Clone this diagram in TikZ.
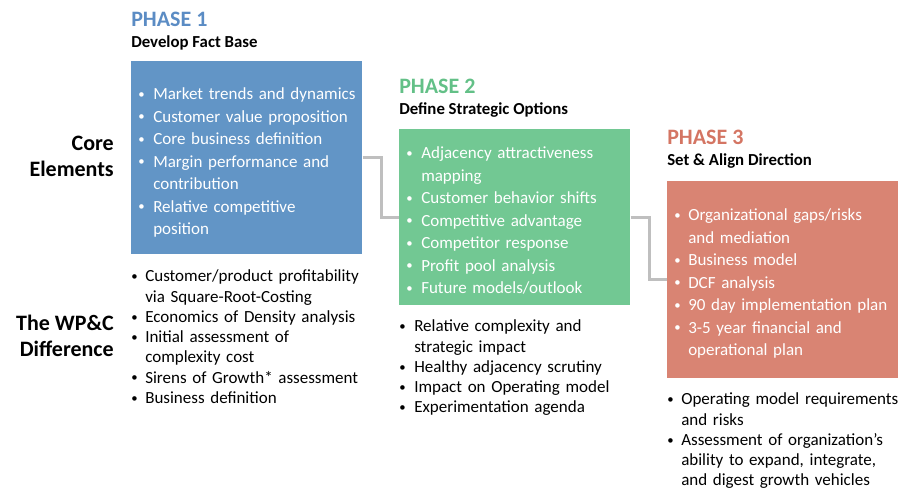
\documentclass[tikz,border=0pt]{standalone}
\usepackage{fontspec}
\setmainfont{Carlito}
\definecolor{pone}{HTML}{6295C6}
\definecolor{ptwo}{HTML}{72C893}
\definecolor{pthree}{HTML}{D98473}
\definecolor{hone}{HTML}{5B8CC4}
\definecolor{htwo}{HTML}{63C087}
\definecolor{hthree}{HTML}{D47563}
\definecolor{conn}{HTML}{BFBFBF}
\newcommand{\smallbullet}{\raisebox{0.9pt}{\scalebox{0.75}{\textbullet}}}
\newcommand{\bitem}[2]{\par\hangindent=#1\hangafter=1\noindent\strut\makebox[#1][l]{\smallbullet}#2}
\newcommand{\boxfont}{\fontsize{12.75}{16.9}\selectfont}
\newcommand{\belowfont}{\fontsize{12.75}{15.2}\selectfont}
\tikzset{
  phasebox/.style={anchor=north west, inner sep=0pt, minimum width=173.25pt},
  phasehead/.style={anchor=base west, inner sep=0pt, font=\bfseries\fontsize{16.5}{19}\selectfont},
  phasesub/.style={anchor=base west, inner sep=0pt, font=\bfseries\fontsize{12.6}{15}\selectfont},
  boxlist/.style={anchor=north west, inner sep=0pt, text width=175pt, align=left, text=white, font=\boxfont},
  belowlist/.style={anchor=north west, inner sep=0pt, text width=190pt, align=left, font=\belowfont},
  sidelabel/.style={anchor=north east, inner sep=0pt, align=right, font=\bfseries\fontsize{16.5}{19.9}\selectfont},
  connector/.style={draw=conn, line width=2.25pt}
}
\begin{document}
\begin{tikzpicture}[x=0.75pt,y=-0.75pt]
\useasboundingbox (0,0) rectangle (900,494);

% boxes
\node[phasebox, fill=pone, minimum height=144.75pt] (b1) at (131,61) {};
\node[phasebox, fill=ptwo, minimum height=132pt] (b2) at (399,129) {};
\node[phasebox, fill=pthree, minimum height=147.75pt] (b3) at (667,181) {};

% connectors
\draw[connector] (b1.east) -- ++(19,0) |- (b2.west);
\draw[connector] (b2.east) -- ++(19,0) |- (b3.west);

% headers
\node[phasehead, text=hone] (h1) at (131,26.5) {PHASE 1};
\node[phasesub] (s1) at (131,47.5) {Develop Fact Base};
\node[phasehead, text=htwo] (h2) at (399,93.5) {PHASE 2};
\node[phasesub] (s2) at (399,114.5) {Define Strategic Options};
\node[phasehead, text=hthree] (h3) at (667,144.5) {PHASE 3};
\node[phasesub] (s3) at (667,165.5) {Set \& Align Direction};

% side labels
\node[sidelabel] (core) at (114,131.5) {\strut Core\\Elements};
\node[sidelabel] (diff) at (114,311.5) {\strut The WP\&C\\Difference};

% lists inside boxes
\node[boxlist] (l1) at (138,76.7) {%
\bitem{11.25pt}{Market trends and dynamics}
\bitem{11.25pt}{Customer value proposition}
\bitem{11.25pt}{Core business definition}
\bitem{11.25pt}{Margin performance and\newline contribution}
\bitem{11.25pt}{Relative competitive\newline position}\par};

\node[boxlist] (l2) at (406,135.7) {%
\bitem{11.25pt}{Adjacency attractiveness\newline mapping}
\bitem{11.25pt}{Customer behavior shifts}
\bitem{11.25pt}{Competitive advantage}
\bitem{11.25pt}{Competitor response}
\bitem{11.25pt}{Profit pool analysis}
\bitem{11.25pt}{Future models/outlook}\par};

\node[boxlist] (l3) at (674,197.7) {%
\bitem{10.5pt}{Organizational gaps/risks\newline and mediation}
\bitem{10.5pt}{Business model}
\bitem{10.5pt}{DCF analysis}
\bitem{10.5pt}{90 day implementation plan}
\bitem{10.5pt}{3-5 year financial and\newline operational plan}\par};

% lists below boxes
\node[belowlist] (d1) at (131,261.3) {%
\bitem{10.5pt}{Customer/product profitability\newline via Square-Root-Costing}
\bitem{10.5pt}{Economics of Density analysis}
\bitem{10.5pt}{Initial assessment of\newline complexity cost}
\bitem{10.5pt}{Sirens of Growth* assessment}
\bitem{10.5pt}{Business definition}\par};

\node[belowlist] (d2) at (399,311.3) {%
\bitem{11.25pt}{Relative complexity and\newline strategic impact}
\bitem{11.25pt}{Healthy adjacency scrutiny}
\bitem{11.25pt}{Impact on Operating model}
\bitem{11.25pt}{Experimentation agenda}\par};

\node[belowlist] (d3) at (667,384.3) {%
\bitem{10.5pt}{Operating model requirements\newline and risks}
\bitem{10.5pt}{Assessment of organization’s\newline ability to expand, integrate,\newline and digest growth vehicles}\par};
\end{tikzpicture}
\end{document}
